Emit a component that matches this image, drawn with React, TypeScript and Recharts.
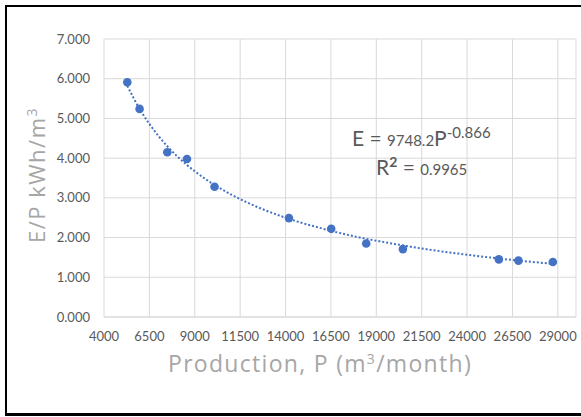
import React from "react";
import { ComposedChart, XAxis, YAxis, CartesianGrid, Scatter, Line } from "recharts";

const prodX = [5283, 5960, 7486, 8570, 10090, 14187, 16516, 18444, 20464, 25750, 26830, 28724];
const epY = [5.91, 5.24, 4.15, 3.98, 3.28, 2.49, 2.22, 1.85, 1.71, 1.45, 1.42, 1.385];
const trendX = [5283, 6000, 7000, 8000, 9000, 10000, 12000, 14000, 16000, 18000, 20000, 22000, 24000, 26000, 28724];
const trendY = [5.82, 5.21, 4.56, 4.06, 3.67, 3.35, 2.86, 2.5, 2.23, 2.01, 1.84, 1.69, 1.57, 1.46, 1.34];
const xTicks = [4000, 6500, 9000, 11500, 14000, 16500, 19000, 21500, 24000, 26500, 29000];
const yTicks = [0, 1, 2, 3, 4, 5, 6, 7];

const points = prodX.map((x, i) => ({ x, y: epY[i] }));
const trend = trendX.map((x, i) => ({ x, y: trendY[i] }));

const FONT = "Lato, 'Open Sans', sans-serif";
const TITLE_FONT = "'Open Sans', Lato, sans-serif";
const BLUE = "#4472C4";

const Dot = (props: any) => {
  const { cx, cy } = props;
  if (cx == null || cy == null) return null;
  return <circle cx={cx} cy={cy} r={4.3} fill={BLUE} stroke="none" />;
};

export default function App() {
  return (
    <div style={{ position: "absolute", left: 0, top: 0, width: 581, height: 417, overflow: "hidden", background: "#fff", fontFamily: FONT }}>
      <div style={{ position: "absolute", left: 5, top: 5, width: 600, height: 406, borderTop: "2px solid #000", borderLeft: "2px solid #000", borderBottom: "3px solid #000", boxSizing: "content-box" }} />
      <div style={{ position: "absolute", left: 0, top: 0 }}>
        <ComposedChart width={581} height={417} margin={{ top: 39, right: 5, bottom: 0, left: 0 }}>
          <CartesianGrid stroke="#D9D9D9" strokeWidth={1} />
          <XAxis
            type="number"
            dataKey="x"
            domain={[4000, 30000]}
            ticks={xTicks}
            interval={0}
            height={100}
            tickLine={false}
            axisLine={{ stroke: "#D9D9D9" }}
            tickMargin={9}
            tick={{ fill: "#595959", fontSize: 13, fontFamily: FONT }}
            allowDataOverflow
          />
          <YAxis
            type="number"
            dataKey="y"
            domain={[0, 7]}
            ticks={yTicks}
            interval={0}
            width={104}
            tickLine={false}
            axisLine={false}
            tickMargin={8}
            tickFormatter={(v: number) => v.toFixed(3)}
            tick={{ fill: "#595959", fontSize: 13, fontFamily: FONT }}
          />
          <Line
            data={trend}
            dataKey="y"
            type="monotone"
            stroke={BLUE}
            strokeWidth={2}
            strokeDasharray="2 2"
            dot={false}
            activeDot={false}
            isAnimationActive={false}
          />
          <Scatter data={points} dataKey="y" fill={BLUE} shape={<Dot />} isAnimationActive={false} />
        </ComposedChart>
      </div>
      <div
        style={{
          position: "absolute",
          left: 34,
          top: 175,
          transform: "translate(-50%, -50%) rotate(-90deg)",
          whiteSpace: "nowrap",
          fontFamily: TITLE_FONT,
          fontSize: 22,
          letterSpacing: 1.5,
          color: "#A6A6A6",
          lineHeight: "26px",
        }}
      >
        E/P kWh/m<span style={{ fontSize: 14, verticalAlign: "8px" }}>3</span>
      </div>
      <div
        style={{
          position: "absolute",
          left: 320,
          top: 361,
          transform: "translate(-50%, -50%)",
          whiteSpace: "nowrap",
          fontFamily: TITLE_FONT,
          fontSize: 23,
          letterSpacing: 1.3,
          color: "#A6A6A6",
          lineHeight: "26px",
        }}
      >
        Production, P (m<span style={{ fontSize: 14, verticalAlign: "8px" }}>3</span>/month)
      </div>
      <div style={{ position: "absolute", left: 352, top: 122, whiteSpace: "nowrap", color: "#595959", lineHeight: "20px" }}>
        <span style={{ fontSize: 21 }}>E = </span>
        <span style={{ fontSize: 15 }}>9748.2</span>
        <span style={{ fontSize: 21 }}>P</span>
        <span style={{ fontSize: 15, verticalAlign: "8px" }}>-0.866</span>
      </div>
      <div style={{ position: "absolute", left: 376, top: 152, whiteSpace: "nowrap", color: "#595959", lineHeight: "20px" }}>
        <span style={{ fontSize: 21 }}>R</span>
        <span style={{ fontSize: 14, fontWeight: 700, verticalAlign: "8px" }}>2</span>
        <span style={{ fontSize: 21 }}> = </span>
        <span style={{ fontSize: 15 }}>0.9965</span>
      </div>
    </div>
  );
}
